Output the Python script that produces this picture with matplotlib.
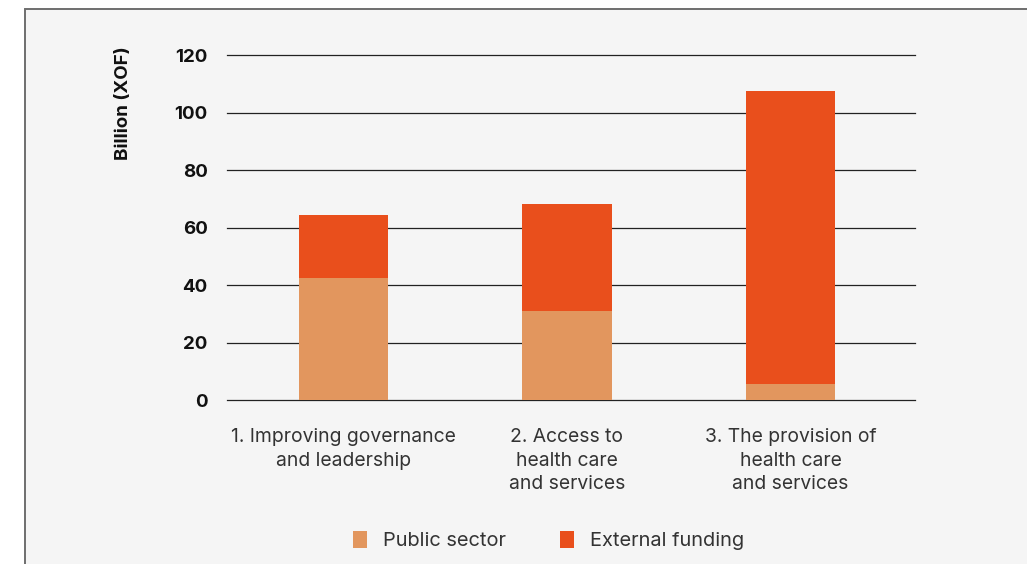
import numpy as np
import matplotlib
matplotlib.use("Agg")
import matplotlib.pyplot as plt
from matplotlib.patches import Rectangle, Patch

categories = ["1. Improving governance\nand leadership",
              "2. Access to\nhealth care\nand services",
              "3. The provision of\nhealth care\nand services"]
public_sector = [42.6, 31.2, 5.8]     # billion XOF
external_funding = [21.8, 37.1, 101.8]
yticks = [0, 20, 40, 60, 80, 100, 120]

c_public = "#E2965E"
c_external = "#E94F1C"

plt.rcParams["font.family"] = ["Inter", "DejaVu Sans"]

fig = plt.figure(figsize=(10.27, 5.64), dpi=100, facecolor="white")

# grey panel with border
fig.patches.append(Rectangle((25/1027, -0.05), 1.2, 1 - 9/564 + 0.05,
                             transform=fig.transFigure, facecolor="#f5f5f5",
                             edgecolor="#6e6e6e", lw=1.4, zorder=-5))

ax = fig.add_axes([227/1027, 1 - 400.3/564, (915 - 227)/1027, (400.3 - 55)/564])
ax.set_facecolor("none")

x = np.arange(len(categories))
ax.bar(x, public_sector, width=0.4, color=c_public, zorder=3)
ax.bar(x, external_funding, width=0.4, bottom=public_sector, color=c_external, zorder=3)

ax.set_xlim(-0.521, 2.557)
ax.set_ylim(0, 120)
ax.set_yticks(yticks)
ax.set_yticklabels([str(v) for v in yticks], fontweight="bold", fontsize=13.5, color="#111111")
ax.set_xticks(x)
ax.set_xticklabels(categories, fontsize=13.9, color="#333333", linespacing=1.4)
ax.tick_params(axis="both", length=0)
ax.tick_params(axis="y", pad=14)
ax.tick_params(axis="x", pad=20)
ax.grid(axis="y", color="#222222", lw=0.9, zorder=1)
ax.grid(axis="x", visible=False)
for gl in ax.get_ygridlines():
    gl.set_clip_on(False)
for s in ax.spines.values():
    s.set_visible(False)

fig.text(123/1027, 1 - 103.5/564, "Billion (XOF)", rotation=90, fontweight="bold",
         fontsize=13.5, ha="center", va="center", color="#111111")

handles = [Patch(facecolor=c_public, label="Public sector"),
           Patch(facecolor=c_external, label="External funding")]
fig.legend(handles=handles, loc="center", bbox_to_anchor=(548.5/1027, 1 - 540.5/564),
           ncol=2, frameon=False, fontsize=14.4, handlelength=0.72, handleheight=0.9,
           handletextpad=0.8, columnspacing=2.7, labelcolor="#333333")

fig.savefig("out.png", dpi=100, facecolor="white")
